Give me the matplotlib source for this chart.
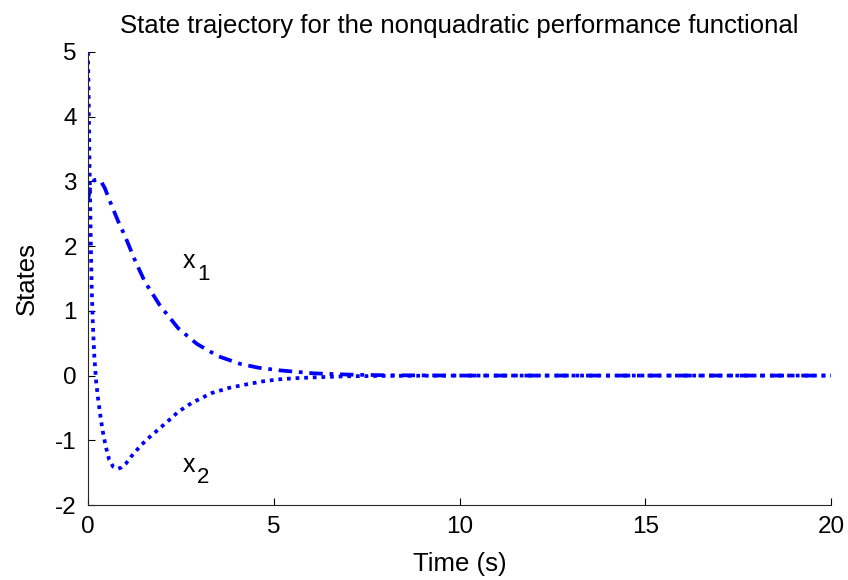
import matplotlib
matplotlib.use("Agg")
import matplotlib.pyplot as plt

plt.rcParams['font.family'] = ['Liberation Sans', 'DejaVu Sans']
plt.rcParams['axes.unicode_minus'] = False

t1 = [0, 0.05, 0.1, 0.17, 0.25, 0.35, 0.45, 0.6, 0.8, 1.0, 1.25, 1.53, 1.94,
      2.43, 2.93, 3.5, 4.1, 4.6, 5.17, 6.06, 7, 8, 10, 20]
x1 = [2.7, 2.88, 2.97, 3.02, 3.03, 3.0, 2.9, 2.68, 2.4, 2.15, 1.8, 1.45, 1.08,
      0.73, 0.49, 0.3, 0.18, 0.12, 0.08, 0.035, 0.015, 0.005, 0, 0]

t2 = [0, 0.02, 0.04, 0.06, 0.08, 0.1, 0.13, 0.17, 0.22, 0.28, 0.34, 0.4, 0.48,
      0.57, 0.68, 0.8, 0.9, 1.02, 1.15, 1.3, 1.44, 1.6, 1.76, 2.0, 2.2, 2.43,
      2.8, 3.33, 3.8, 4.23, 4.7, 5.1, 5.6, 6.2, 7, 8, 10, 20]
x2 = [5, 4.2, 3.3, 2.6, 1.9, 1.35, 0.8, 0.3, -0.1, -0.4, -0.65, -0.87, -1.1,
      -1.3, -1.41, -1.44, -1.42, -1.36, -1.26, -1.16, -1.07, -0.98, -0.9, -0.78,
      -0.68, -0.56, -0.42, -0.27, -0.19, -0.14, -0.09, -0.06, -0.04, -0.025,
      -0.01, -0.005, 0, 0]

xticks = [0, 5, 10, 15, 20]
yticks = [-2, -1, 0, 1, 2, 3, 4, 5]

fig = plt.figure(figsize=(8.48, 5.8), dpi=100)
ax = fig.add_axes([88/848, 75/580, 743/848, 453/580])

ax.plot(t2, x2, color='#0000ff', linestyle=(0, (1, 1.3)), linewidth=2.7)
ax.plot(t1, x1, color='#0000ff', linestyle=(0, (3.6, 1.8, 1, 1.8)), linewidth=2.7)

ax.set_xlim(0, 20)
ax.set_ylim(-2, 5)
ax.set_xticks(xticks)
ax.set_yticks(yticks)
ax.spines['top'].set_visible(False)
ax.spines['right'].set_visible(False)
for s in ['left', 'bottom']:
    ax.spines[s].set_color('#262626')
    ax.spines[s].set_linewidth(0.8)
ax.tick_params(direction='in', length=5, width=0.8, labelsize=17.5, colors='black')
ax.tick_params(axis='x', pad=8)
ax.tick_params(axis='y', pad=8)

for (lx, ly, sub) in [(2.55, 1.72, '1'), (2.55, -1.42, '2')]:
    ax.annotate('x', (lx, ly), fontsize=18, va='baseline', ha='left',
                xytext=(0, -3), textcoords='offset points')
    ax.annotate(sub, (lx, ly), fontsize=16, va='baseline', ha='left',
                xytext=(10.5, -11.5), textcoords='offset points')

ax.set_title('State trajectory for the nonquadratic performance functional',
             fontsize=18.5, pad=14)
ax.set_xlabel('Time (s)', fontsize=18.5, labelpad=10)
ax.set_ylabel('States', fontsize=18.5, labelpad=12)

fig.savefig('out.png', dpi=100)
